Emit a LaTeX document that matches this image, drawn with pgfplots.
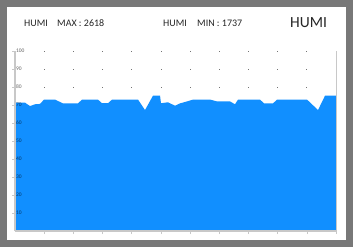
\documentclass[border=0pt]{standalone}
\usepackage{pgfplots}
\pgfplotsset{compat=1.18}
\usepackage{fontspec}
\setmainfont{Carlito}
\definecolor{humiblue}{RGB}{17,143,255}
\definecolor{framegray}{RGB}{120,120,120}
\definecolor{axgray}{RGB}{200,200,200}
\pgfplotsset{
  /pgfplots/layers/mylayers/.define layer set={axis background,axis grid,pre main,main,axis ticks,axis lines,axis tick labels,axis descriptions,axis foreground}{/pgfplots/layers/standard},
}
\begin{document}
\begin{tikzpicture}
\begin{axis}[
  set layers=mylayers,
  scale only axis,
  width=321pt, height=180pt,
  at={(15pt,16pt)}, anchor=south west,
  xmin=0, xmax=11, ymin=0, ymax=100,
  axis lines*=left,
  axis line style={axgray, line width=1.2pt, -},
  tick align=outside,
  major tick length=3pt,
  tick style={axgray, line width=0.6pt},
  xtick={1,2,3,4,5,6,7,8,9,10,11},
  xticklabels={},
  ytick={10,20,30,40,50,60,70,80,90,100},
  /pgf/number format/assume math mode=true,
  yticklabel style={anchor=west, font=\fontsize{5.5}{6}\selectfont, text=black, text opacity=0.6, xshift=0.5pt},
  xmajorgrids,
  grid style={black!55, line width=0.7pt, dash pattern=on 0.7pt off 17.3pt, dash phase=0.35pt},
  clip=false,
]
\begin{pgfonlayer}{axis background}
\fill[framegray] ([xshift=-15pt,yshift=-16pt]rel axis cs:0,0) rectangle ++(353pt,247pt);
\fill[white] ([xshift=-8pt,yshift=-9pt]rel axis cs:0,0) rectangle ++(339pt,233pt);
\end{pgfonlayer}
\addplot[fill=humiblue, draw=none] coordinates {
(0,71.3) (0.343,71.3) (0.514,69.4) (0.685,70.4) (0.857,70.6) (0.994,73)
(1.371,73) (1.645,70.9) (2.159,70.9) (2.296,73) (2.844,73) (2.981,71)
(3.187,71) (3.324,73) (4.215,73) (4.455,67.2) (4.729,75.2) (4.969,75.2)
(5.003,71) (5.243,71.5) (5.483,69.6) (5.655,70.9) (5.894,72) (6.100,73)
(6.683,73) (6.923,72) (7.368,72) (7.539,70.4) (7.642,73) (8.396,73)
(8.533,70.9) (8.842,70.9) (8.979,73) (10.007,73) (10.384,67.2) (10.624,75.2)
(11,75.2)
} \closedcycle;
\draw[axgray, line width=0.8pt] (rel axis cs:1,0) -- (rel axis cs:1,1);
\end{axis}
\node[anchor=base west, inner sep=0pt, text=black!85, font=\fontsize{10}{12}\selectfont] at (24pt,220.3pt) {HUMI};
\node[anchor=base west, inner sep=0pt, text=black!85, font=\fontsize{10}{12}\selectfont] at (57pt,220.3pt) {MAX : 2618};
\node[anchor=base west, inner sep=0pt, text=black!85, font=\fontsize{10}{12}\selectfont] at (163pt,220.3pt) {HUMI};
\node[anchor=base west, inner sep=0pt, text=black!85, font=\fontsize{10}{12}\selectfont] at (197pt,220.3pt) {MIN : 1737};
\node[anchor=base west, inner sep=0pt, text=black!85, font=\fontsize{15.5}{18}\selectfont] at (290pt,219.7pt) {HUMI};
\end{tikzpicture}
\end{document}
